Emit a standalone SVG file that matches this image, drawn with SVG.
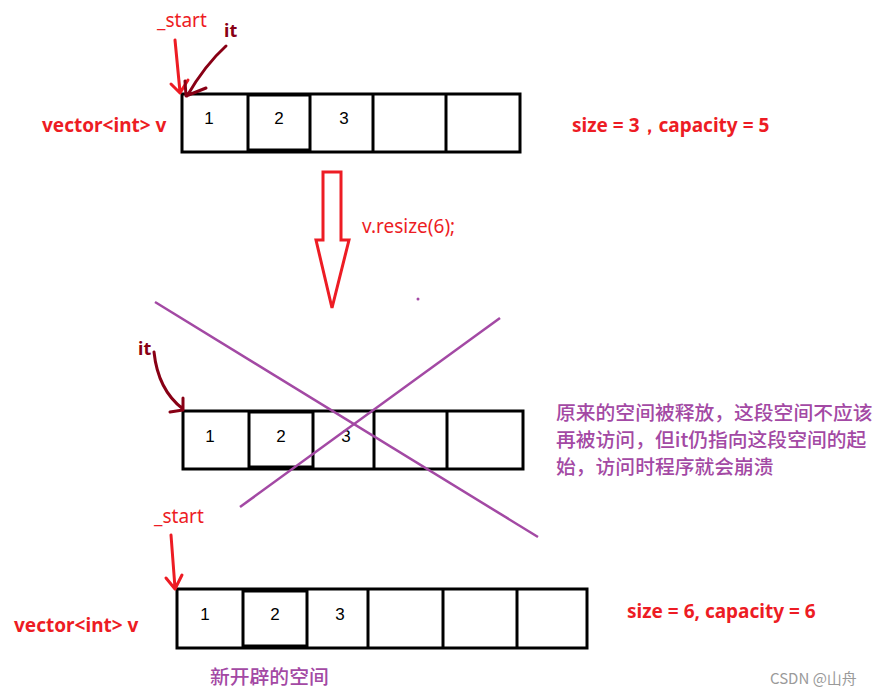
<svg xmlns="http://www.w3.org/2000/svg" width="896" height="696" viewBox="0 0 896 696">
<style>
.cell{fill:#fff;stroke:#000;stroke-width:3}
.num{font-family:"Liberation Sans",Arial,sans-serif;font-size:17px;fill:#000;text-anchor:middle}
.red{font-family:"Noto Sans","Liberation Sans",Arial,sans-serif;font-size:19px;fill:#ED1C24;font-weight:bold}
.redn{font-family:"Noto Sans","Liberation Sans",Arial,sans-serif;font-size:19px;fill:#ED1C24}
.dred{font-family:"Noto Sans","Liberation Sans",Arial,sans-serif;font-size:18px;fill:#880015;font-weight:bold}
.pur{font-family:"Noto Sans CJK SC","Liberation Sans",sans-serif;font-size:19.8px;fill:#A349A4;font-weight:500}
.ptr{fill:none;stroke-width:3;stroke-linecap:round;stroke-linejoin:round}
</style>
<rect width="896" height="696" fill="#fff"/>
<g id="top-array">
<rect class="cell" x="182" y="94" width="338" height="58"/>
<rect class="cell" x="248" y="95" width="62" height="55"/>
<line class="cell" x1="373" y1="94" x2="373" y2="152"/>
<line class="cell" x1="446" y1="94" x2="446" y2="152"/>
<text class="num" x="209" y="124">1</text>
<text class="num" x="279" y="124">2</text>
<text class="num" x="344" y="124">3</text>
</g>
<g id="mid-array">
<rect class="cell" x="183" y="411" width="340" height="58"/>
<rect class="cell" x="249" y="412" width="64" height="55"/>
<line class="cell" x1="374" y1="411" x2="374" y2="469"/>
<line class="cell" x1="447" y1="411" x2="447" y2="469"/>
<text class="num" x="210" y="442">1</text>
<text class="num" x="281" y="442">2</text>
<text class="num" x="346" y="442">3</text>
</g>
<g id="bottom-array">
<rect class="cell" x="177" y="589" width="410" height="59"/>
<rect class="cell" x="243" y="591" width="64" height="55"/>
<line class="cell" x1="368" y1="589" x2="368" y2="648"/>
<line class="cell" x1="443" y1="589" x2="443" y2="648"/>
<line class="cell" x1="517" y1="589" x2="517" y2="648"/>
<text class="num" x="205" y="620">1</text>
<text class="num" x="275" y="620">2</text>
<text class="num" x="340" y="620">3</text>
</g>
<g id="labels">
<text class="redn" x="157" y="27">_start</text>
<text class="dred" x="224" y="37">it</text>
<text class="red" x="42" y="132">vector&lt;int&gt; v</text>
<text class="red" x="572" y="132">size = 3，capacity = 5</text>
<text class="redn" x="362" y="233">v.resize(6);</text>
<text class="dred" x="138" y="355">it</text>
<text class="redn" x="154" y="523">_start</text>
<text class="red" x="14" y="632">vector&lt;int&gt; v</text>
<text class="red" x="627" y="618">size = 6, capacity = 6</text>
<text class="pur" x="556" y="420">原来的空间被释放，这段空间不应该</text>
<text class="pur" x="556" y="447">再被访问，但it仍指向这段空间的起</text>
<text class="pur" x="556" y="474">始，访问时程序就会崩溃</text>
<text class="pur" x="210" y="684">新开辟的空间</text>
<text x="770" y="684" font-family="'Noto Sans CJK SC','Liberation Sans',sans-serif" font-size="15" fill="#9a9a9a">CSDN @山舟</text>
</g>
<g id="connectors">
<path class="ptr" stroke="#ED1C24" d="M175 40 L180 92 M171 84 L180 93 L188 80"/>
<path class="ptr" stroke="#880015" d="M226 46 Q205 65 187 96 M185 81 L186 96 L206 88"/>
<path class="ptr" stroke="#880015" d="M154 352 Q158 390 183 409 M170 412 L183 410 L183 398"/>
<path class="ptr" stroke="#ED1C24" d="M171 535 L175 588 M166 578 L175 589 L182 575"/>
<path fill="none" stroke="#ED1C24" stroke-width="3" d="M323 172 L341 172 L341 240 L349 240 L332 308 L316 240 L323 240 Z"/>
<line x1="155" y1="302" x2="538" y2="537" stroke="#A349A4" stroke-width="2.5"/>
<line x1="500" y1="318" x2="240" y2="507" stroke="#A349A4" stroke-width="2.5"/>
<circle cx="418" cy="299" r="1.5" fill="#A349A4"/>
</g>
</svg>
